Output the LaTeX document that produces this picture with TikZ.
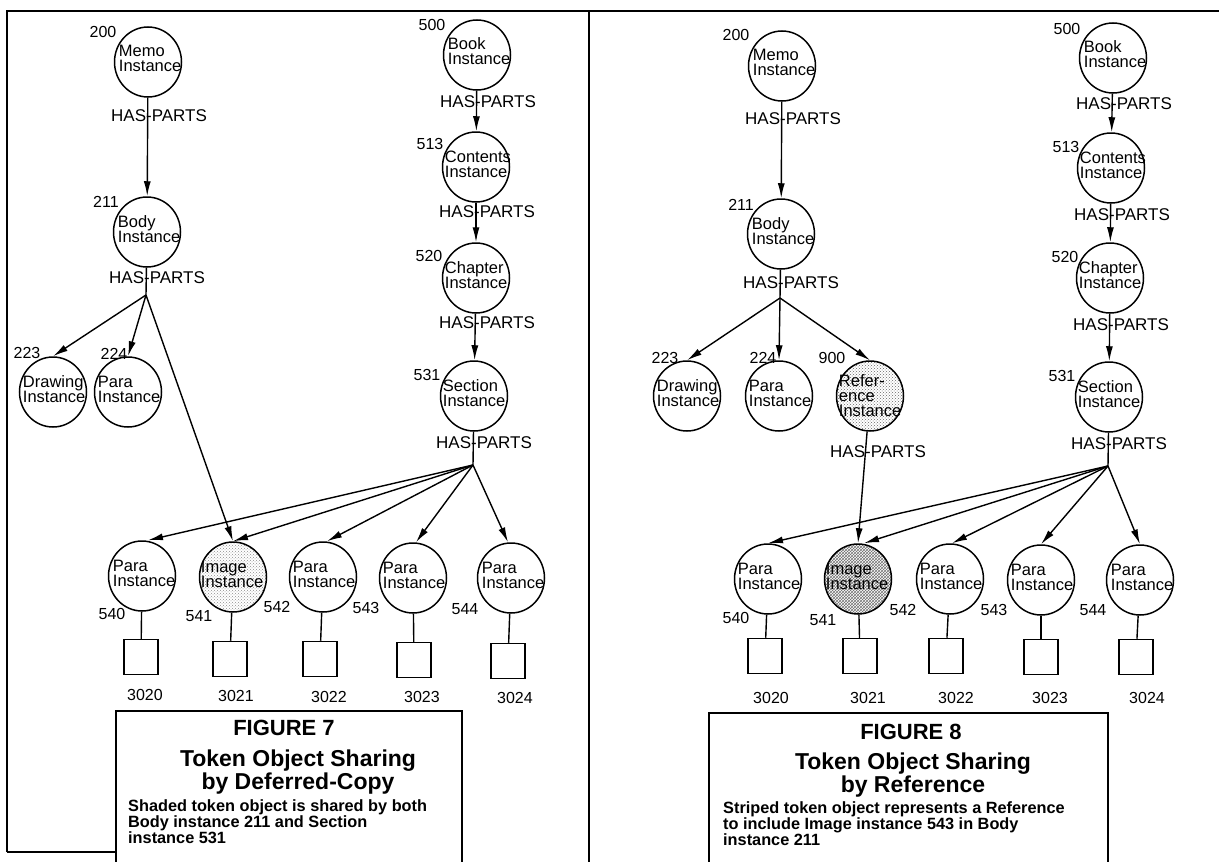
\documentclass[tikz,border=0pt]{standalone}
\usepackage{fontspec}
\setmainfont{Liberation Sans}
\usetikzlibrary{shapes.geometric,arrows.meta,patterns}

\tikzset{
  tok/.style={ellipse, draw, line width=1.5pt, minimum width=67pt, minimum height=70pt, inner sep=0pt},
  tokt/.style={anchor=west, align=left, inner sep=0pt, font=\fontsize{16.5}{15}\selectfont},
  num/.style={inner sep=0pt, font=\fontsize{16}{16}\selectfont},
  hp/.style={inner sep=0pt, font=\fontsize{17}{17}\selectfont},
  sq/.style={rectangle, draw, line width=1.5pt, minimum width=34pt, minimum height=35pt, inner sep=0pt},
  con/.style={line width=1.4pt},
  arr/.style={con, -{Latex[length=15pt,width=7pt]}},
  frame/.style={line width=2.8pt},
  figt/.style={inner sep=0pt, font=\fontsize{22}{22}\selectfont\bfseries},
  head/.style={inner sep=0pt, align=center, font=\fontsize{23}{20}\selectfont\bfseries},
  capd/.style={inner sep=0pt, align=left, anchor=north west, font=\fontsize{16.3}{15}\selectfont\bfseries},
  shadeA/.style={pattern=crosshatch dots, pattern color=black!45},
  shadeB/.style={pattern=crosshatch, pattern color=black!55},
  shadeC/.style={pattern=crosshatch dots, pattern color=black!60},
}

\begin{document}
\begin{tikzpicture}[x=1pt, y=-1pt]
\useasboundingbox (0,0) rectangle (1219,862);

% ---------- panel frames ----------
\draw[frame] (7,852) -- (7,11) -- (1219,11);
\draw[frame] (589,11) -- (589,862);
\draw[frame] (7,852) -- (116,852);
\draw[frame] (116,862) -- (116,711) -- (462,711) -- (462,862);
\draw[frame] (709,862) -- (709,713) -- (1108,713) -- (1108,862);

% =================== FIGURE 7 ===================
% memo side
\node[tok] (memoL) at (148,62) {};
\node[tok] (bodyL) at (147,232) {};
\node[tok] (drawL) at (53,392) {};
\node[tok] (paraL224) at (128,392) {};
% book side
\node[tok] (bookL) at (477,55) {};
\node[tok] (contL) at (476,167) {};
\node[tok] (chapL) at (476,278) {};
\node[tok] (secL) at (474,396) {};
% bottom row
\node[tok] (p540L) at (142,576) {};
\node[tok, shadeA] (imgL) at (233,577) {};
\node[tok] (p542L) at (323,577) {};
\node[tok] (p543L) at (413,578) {};
\node[tok] (p544L) at (511,578) {};
% token boxes
\node[sq] (s3020L) at (141,657) {};
\node[sq] (s3021L) at (230,659) {};
\node[sq] (s3022L) at (320,659) {};
\node[sq] (s3023L) at (414,660) {};
\node[sq] (s3024L) at (508,661) {};

% texts inside the instances
\node[tokt] (memoLt) at ([xshift=5pt,yshift=4pt]memoL.west) {Memo\\Instance};
\node[tokt] (bodyLt) at ([xshift=5pt,yshift=3pt]bodyL.west) {Body\\Instance};
\node[tokt] (drawLt) at ([xshift=4pt,yshift=3pt]drawL.west) {Drawing\\Instance};
\node[tokt] (paraL224t) at ([xshift=4pt,yshift=3pt]paraL224.west) {Para\\Instance};
\node[tokt] (bookLt) at ([xshift=5pt,yshift=4pt]bookL.west) {Book\\Instance};
\node[tokt] (contLt) at ([xshift=3pt,yshift=3pt]contL.west) {Contents\\Instance};
\node[tokt] (chapLt) at ([xshift=3pt,yshift=3pt]chapL.west) {Chapter\\Instance};
\node[tokt] (secLt) at ([xshift=3pt,yshift=3pt]secL.west) {Section\\Instance};
\node[tokt] (p540Lt) at ([xshift=5pt,yshift=3pt]p540L.west) {Para\\Instance};
\node[tokt] (imgLt) at ([xshift=2pt,yshift=3pt]imgL.west) {Image\\Instance};
\node[tokt] (p542Lt) at ([xshift=4pt,yshift=3pt]p542L.west) {Para\\Instance};
\node[tokt] (p543Lt) at ([xshift=4pt,yshift=3pt]p543L.west) {Para\\Instance};
\node[tokt] (p544Lt) at ([xshift=5pt,yshift=3pt]p544L.west) {Para\\Instance};

% identifiers
\node[num] (n200L) at (103,32) {200};
\node[num] (n211L) at (106,202) {211};
\node[num] (n223L) at (27,353) {223};
\node[num] (n224L) at (114,354) {224};
\node[num] (n500L) at (432,25) {500};
\node[num] (n513L) at (430,144) {513};
\node[num] (n520L) at (429,256) {520};
\node[num] (n531L) at (427,375) {531};
\node[num] (n540L) at (112,614) {540};
\node[num] (n541L) at (199,616) {541};
\node[num] (n542L) at (277,607) {542};
\node[num] (n543L) at (366,608) {543};
\node[num] (n544L) at (465,609) {544};
\node[num] (n3020L) at (145,695) {3020};
\node[num] (n3021L) at (236,696) {3021};
\node[num] (n3022L) at (329,697) {3022};
\node[num] (n3023L) at (422,697) {3023};
\node[num] (n3024L) at (515,698) {3024};

% relation labels (the link runs through the hyphen)
\node[hp] (hpMemoL) at (159,116) {HAS-PARTS};
\node[hp] (hpBodyL) at (157,278) {HAS-PARTS};
\node[hp] (hpBookL) at (488,102) {HAS-PARTS};
\node[hp] (hpContL) at (487,212) {HAS-PARTS};
\node[hp] (hpChapL) at (487,323) {HAS-PARTS};
\node[hp] (hpSecL) at (484,443) {HAS-PARTS};

% links
\coordinate (fanBL) at (146,295);
\coordinate (fanSL) at (473,465);
\draw[arr] (memoL) -- (bodyL);
\draw[con] (bodyL) -- (fanBL);
\draw[arr] (fanBL) -- (drawL.north);
\draw[arr] (fanBL) -- (paraL224.north);
\draw[arr] (fanBL) -- (imgL.north);
\draw[arr] (bookL) -- (contL);
\draw[arr] (contL) -- (chapL);
\draw[arr] (chapL) -- (secL);
\draw[con] (secL) -- (fanSL);
\draw[arr] (fanSL) -- ([xshift=6pt]p540L.north);
\draw[arr] (fanSL) -- (imgL.north);
\draw[arr] (fanSL) -- ([xshift=4pt]p542L.north);
\draw[arr] (fanSL) -- ([xshift=3pt]p543L.north);
\draw[arr] (fanSL) -- ([xshift=-3pt]p544L.north);
\draw[con] (p540L) -- (s3020L);
\draw[con] (imgL) -- (s3021L);
\draw[con] (p542L) -- (s3022L);
\draw[con] (p543L) -- (s3023L);
\draw[con] (p544L) -- (s3024L);

% caption
\node[figt] (fig7) at (284,728) {FIGURE 7};
\node[head] (fig7h) at (298,772) {Token Object Sharing\\by Deferred-Copy};
\node[capd] (fig7d) at (128,799) {Shaded token object is shared by both\\Body instance 211 and Section\\instance 531};

% =================== FIGURE 8 ===================
\node[tok] (memoR) at (782,66) {};
\node[tok] (bodyR) at (781,234) {};
\node[tok] (drawR) at (687,396) {};
\node[tok] (paraR224) at (779,396) {};
\node[tok, shadeC] (refR) at (870,396) {};
\node[tok] (bookR) at (1113,58) {};
\node[tok] (contR) at (1111,168) {};
\node[tok] (chapR) at (1110,278) {};
\node[tok] (secR) at (1109,397) {};
\node[tok] (p540R) at (768,579) {};
\node[tok, shadeB] (imgR) at (858,579) {};
\node[tok] (p542R) at (950,579) {};
\node[tok] (p543R) at (1041,580) {};
\node[tok] (p544R) at (1140,580) {};
\node[sq] (s3020R) at (765,656) {};
\node[sq] (s3021R) at (860,656) {};
\node[sq] (s3022R) at (946,656) {};
\node[sq] (s3023R) at (1041,657) {};
\node[sq] (s3024R) at (1136,657) {};

\node[tokt] (memoRt) at ([xshift=5pt,yshift=4pt]memoR.west) {Memo\\Instance};
\node[tokt] (bodyRt) at ([xshift=5pt,yshift=3pt]bodyR.west) {Body\\Instance};
\node[tokt] (drawRt) at ([xshift=4pt,yshift=3pt]drawR.west) {Drawing\\Instance};
\node[tokt] (paraR224t) at ([xshift=4pt,yshift=3pt]paraR224.west) {Para\\Instance};
\node[tokt] (refRt) at ([xshift=3pt,yshift=0pt]refR.west) {Refer-\\ence\\Instance};
\node[tokt] (bookRt) at ([xshift=5pt,yshift=4pt]bookR.west) {Book\\Instance};
\node[tokt] (contRt) at ([xshift=3pt,yshift=3pt]contR.west) {Contents\\Instance};
\node[tokt] (chapRt) at ([xshift=3pt,yshift=3pt]chapR.west) {Chapter\\Instance};
\node[tokt] (secRt) at ([xshift=3pt,yshift=3pt]secR.west) {Section\\Instance};
\node[tokt] (p540Rt) at ([xshift=4pt,yshift=3pt]p540R.west) {Para\\Instance};
\node[tokt] (imgRt) at ([xshift=2pt,yshift=3pt]imgR.west) {Image\\Instance};
\node[tokt] (p542Rt) at ([xshift=4pt,yshift=3pt]p542R.west) {Para\\Instance};
\node[tokt] (p543Rt) at ([xshift=4pt,yshift=3pt]p543R.west) {Para\\Instance};
\node[tokt] (p544Rt) at ([xshift=5pt,yshift=3pt]p544R.west) {Para\\Instance};

\node[num] (n200R) at (736,35) {200};
\node[num] (n211R) at (741,205) {211};
\node[num] (n223R) at (665,358) {223};
\node[num] (n224R) at (763,358) {224};
\node[num] (n900R) at (832,358) {900};
\node[num] (n500R) at (1067,29) {500};
\node[num] (n513R) at (1066,147) {513};
\node[num] (n520R) at (1065,257) {520};
\node[num] (n531R) at (1062,376) {531};
\node[num] (n540R) at (736,618) {540};
\node[num] (n541R) at (823,620) {541};
\node[num] (n542R) at (903,610) {542};
\node[num] (n543R) at (994,610) {543};
\node[num] (n544R) at (1093,610) {544};
\node[num] (n3020R) at (771,698) {3020};
\node[num] (n3021R) at (868,698) {3021};
\node[num] (n3022R) at (956,698) {3022};
\node[num] (n3023R) at (1050,698) {3023};
\node[num] (n3024R) at (1147,698) {3024};

\node[hp] (hpMemoR) at (793,119) {HAS-PARTS};
\node[hp] (hpBodyR) at (791,283) {HAS-PARTS};
\node[hp] (hpRefR) at (878,452) {HAS-PARTS};
\node[hp] (hpBookR) at (1124,104) {HAS-PARTS};
\node[hp] (hpContR) at (1122,215) {HAS-PARTS};
\node[hp] (hpChapR) at (1121,325) {HAS-PARTS};
\node[hp] (hpSecR) at (1119,444) {HAS-PARTS};

\coordinate (fanBR) at (780,298);
\coordinate (fanSR) at (1108,466);
\draw[arr] (memoR) -- (bodyR);
\draw[con] (bodyR) -- (fanBR);
\draw[arr] (fanBR) -- (drawR.north);
\draw[arr] (fanBR) -- (paraR224.north);
\draw[arr] (fanBR) -- (refR.north);
\draw[arr] (refR) -- (imgR.north);
\draw[arr] (bookR) -- (contR);
\draw[arr] (contR) -- (chapR);
\draw[arr] (chapR) -- (secR);
\draw[con] (secR) -- (fanSR);
\draw[arr] (fanSR) -- (p540R.north);
\draw[arr] (fanSR) -- ([xshift=6pt]imgR.north);
\draw[arr] (fanSR) -- ([xshift=2pt]p542R.north);
\draw[arr] (fanSR) -- (p543R.north);
\draw[arr] (fanSR) -- (p544R.north);
\draw[con] (p540R) -- (s3020R);
\draw[con] (imgR) -- (s3021R);
\draw[con] (p542R) -- (s3022R);
\draw[con] (p543R) -- (s3023R);
\draw[con] (p544R) -- (s3024R);

\node[figt] (fig8) at (911,732) {FIGURE 8};
\node[head] (fig8h) at (913,775) {Token Object Sharing\\by Reference};
\node[capd] (fig8d) at (723,801) {Striped token object represents a Reference\\to include Image instance 543 in Body\\instance 211};
\end{tikzpicture}
\end{document}
